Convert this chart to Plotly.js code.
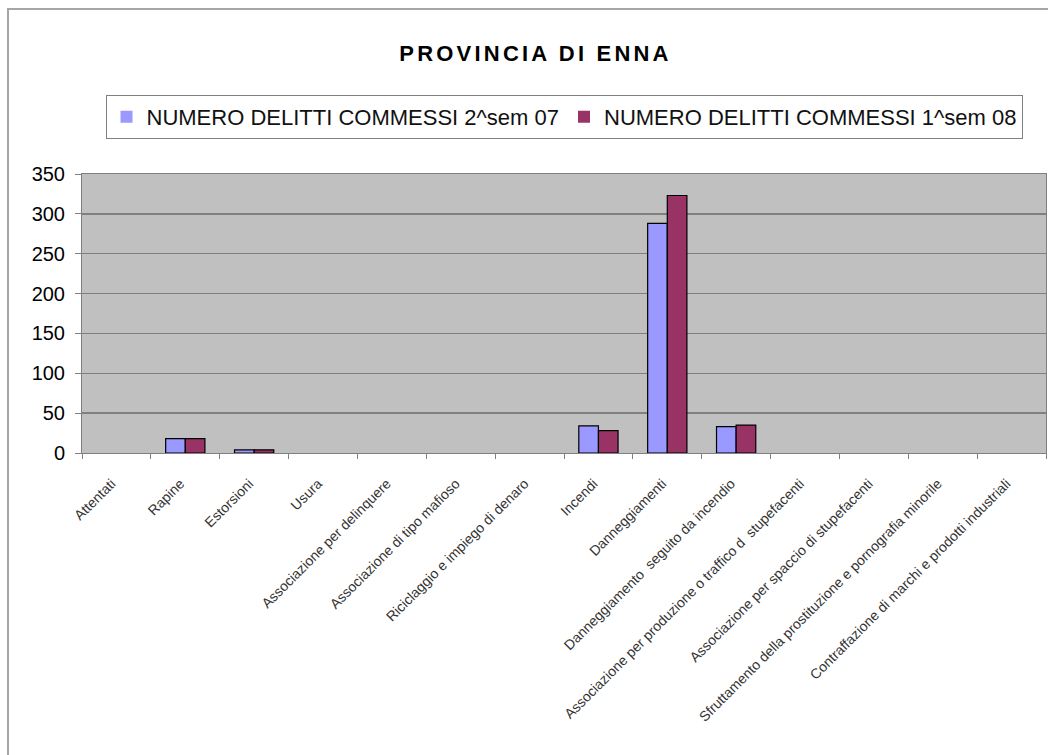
<!DOCTYPE html>
<html>
<head>
<meta charset="utf-8">
<script src="https://cdn.plot.ly/plotly-3.0.1.min.js"></script>
<style>
  body { margin: 0; background: #fff; }
  #frame { position: absolute; left: 7px; top: 8px; width: 1048px; height: 760px;
           border-left: 2px solid #a6a6a6; border-top: 2px solid #a6a6a6; pointer-events: none; }
  #chart { position: absolute; left: 0; top: 0; }
  #chart .gtitle { letter-spacing: 3.2px; }
  #chart .xtick text { font-stretch: condensed; }
</style>
</head>
<body>
<div id="chart"></div>
<div id="frame"></div>
<script>
// categories and values
const reati = [
    'Attentati', 'Rapine', 'Estorsioni', 'Usura', 'Associazione per delinquere',
    'Associazione di tipo mafioso', 'Riciclaggio e impiego di denaro', 'Incendi',
    'Danneggiamenti', 'Danneggiamento  seguito da incendio',
    'Associazione per produzione o traffico d  stupefacenti',
    'Associazione per spaccio di stupefacenti',
    'Sfruttamento della prostituzione e pornografia minorile',
    'Contraffazione di marchi e prodotti industriali'
];
const sem2_07 = [0, 18, 4, 0, 0, 0, 0, 34, 288, 33, 0, 0, 0, 0];
const sem1_08 = [0, 18, 4, 0, 0, 0, 0, 28, 323, 35, 0, 0, 0, 0];
const yTicks = [0, 50, 100, 150, 200, 250, 300, 350];

// no outline on empty bars
const edge = vals => vals.map(v => v > 0 ? 1.2 : 0);

function drawChart() {
    const data = [
        { x: reati, y: sem2_07, type: 'bar', name: 'NUMERO DELITTI COMMESSI 2^sem 07',
          marker: {color: '#9999ff', line: {color: '#000000', width: edge(sem2_07)}} },
        { x: reati, y: sem1_08, type: 'bar', name: 'NUMERO DELITTI COMMESSI 1^sem 08',
          marker: {color: '#993366', line: {color: '#000000', width: edge(sem1_08)}} },
    ];
    const layout = {
        width: 1048, height: 755,
        margin: {l: 82, r: 2, t: 174, b: 302},
        paper_bgcolor: '#ffffff',
        plot_bgcolor: '#c0c0c0',
        font: {family: 'Liberation Sans, Arial, sans-serif', color: '#000000'},
        title: {text: '<b>PROVINCIA DI ENNA</b>', x: 0.511, xanchor: 'center',
                y: 0.93, yanchor: 'middle', font: {size: 22}},
        bargap: 0.43,
        bargroupgap: 0,
        showlegend: true,
        legend: {orientation: 'h', x: 0.5, xanchor: 'center', y: 1.283, yanchor: 'top',
                 bordercolor: '#808080', borderwidth: 1, font: {size: 22, color: '#111111'},
                 itemwidth: 30, traceorder: 'normal'},
        xaxis: {type: 'category', tickson: 'boundaries', ticks: 'outside', ticklen: 5,
                tickcolor: '#808080', showline: true, linecolor: '#808080', linewidth: 1,
                mirror: true, tickangle: -45, automargin: false,
                ticklabelstandoff: 16, ticklabelshift: -5,
                tickfont: {family: 'Liberation Sans Narrow, Liberation Sans, sans-serif', size: 14, color: '#333333'}},
        yaxis: {range: [0, 350], tickvals: yTicks, ticks: 'outside', ticklen: 6,
                tickcolor: '#808080', showline: true, linecolor: '#808080', mirror: true,
                gridcolor: '#808080', gridwidth: 1.5, zeroline: false, automargin: false,
                ticklabelstandoff: 6, tickfont: {size: 20}},
    };
    Plotly.newPlot('chart', data, layout, {displayModeBar: false, staticPlot: true});
}

drawChart();
</script>
</body>
</html>
